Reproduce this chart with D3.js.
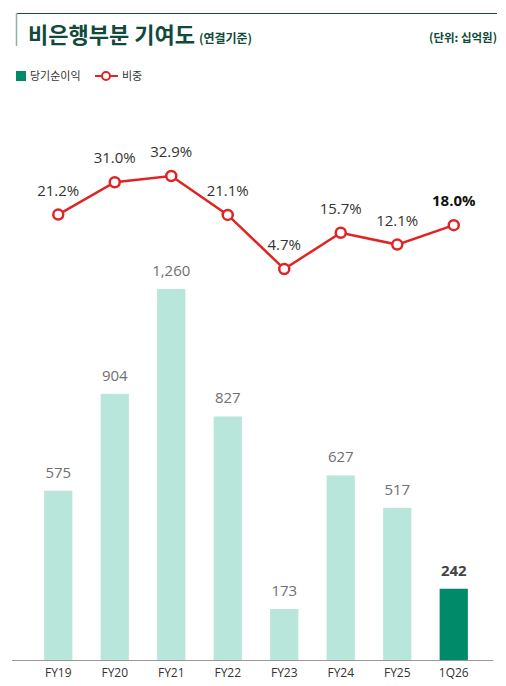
<!DOCTYPE html>
<html>
<meta charset="utf-8">
<head>
<script src="https://cdn.jsdelivr.net/npm/d3@7"></script>
<style>
  body { margin: 0; background: #fff; }
  text { font-family: "Noto Sans CJK KR", "Noto Sans", sans-serif; }
</style>
</head>
<body>
<div id="chart"></div>
<script>

var periods = ["FY19", "FY20", "FY21", "FY22", "FY23", "FY24", "FY25", "1Q26"];
var profit = [575, 904, 1260, 827, 173, 627, 517, 242];
var share = [21.2, 31.0, 32.9, 21.1, 4.7, 15.7, 12.1, 18.0];
var profitLabels = ["575", "904", "1,260", "827", "173", "627", "517", "242"];
var shareLabels = ["21.2%", "31.0%", "32.9%", "21.1%", "4.7%", "15.7%", "12.1%", "18.0%"];

var W = 506, H = 686;
var svg = d3.select("#chart").append("svg").attr("width", W).attr("height", H);

// header
svg.append("line").attr("x1", 16).attr("x2", 497).attr("y1", 13.5).attr("y2", 13.5)
    .attr("stroke", "#1e4a40").attr("stroke-width", 1);
svg.append("line").attr("x1", 16.5).attr("x2", 16.5).attr("y1", 13).attr("y2", 46)
    .attr("stroke", "#8fb0a6").attr("stroke-width", 1.5);

var title = svg.append("text").attr("x", 28).attr("y", 43)
    .attr("fill", "#0f4a3b").style("font-weight", "bold");
title.append("tspan").style("font-size", "22px").text("비은행부분 기여도");
title.append("tspan").attr("dx", 4).style("font-size", "12px").text("(연결기준)");

svg.append("text").attr("x", 497).attr("y", 42).attr("text-anchor", "end")
    .attr("fill", "#0f4a3b").style("font-size", "11.5px").style("font-weight", "bold")
    .text("(단위: 십억원)");

// legend
svg.append("rect").attr("x", 16).attr("y", 71).attr("width", 10).attr("height", 10).attr("fill", "#008a6a");
svg.append("text").attr("x", 30).attr("y", 80).attr("fill", "#333").style("font-size", "11px").text("당기순이익");
svg.append("line").attr("x1", 95).attr("x2", 118).attr("y1", 76).attr("y2", 76)
    .attr("stroke", "#e02424").attr("stroke-width", 2);
svg.append("circle").attr("cx", 106).attr("cy", 76).attr("r", 4)
    .attr("fill", "#fff").attr("stroke", "#e02424").attr("stroke-width", 2);
svg.append("text").attr("x", 122).attr("y", 80).attr("fill", "#333").style("font-size", "11px").text("비중");

// scales
var x = d3.scaleBand().domain(periods).range([30, 482]).paddingInner(0.5).paddingOuter(0.25);
var yBar = d3.scaleLinear().domain([0, 1260]).range([660, 289]);
var yLine = d3.scaleLinear().domain([0, 32.9]).range([284.5, 176]);

var last = periods.length - 1;
var barColor = function(d, i) { return i === last ? "#008a6a" : "#b9e6da"; };

svg.selectAll("rect.bar")
    .data(profit).enter()
    .append("rect")
    .attr("class", "bar")
    .attr("x", function(d, i) { return x(periods[i]); })
    .attr("y", function(d) { return yBar(d); })
    .attr("width", x.bandwidth())
    .attr("height", function(d) { return yBar(0) - yBar(d); })
    .attr("fill", barColor);

svg.selectAll("text.barlabel")
    .data(profit).enter()
    .append("text")
    .attr("class", "barlabel")
    .attr("x", function(d, i) { return x(periods[i]) + x.bandwidth() / 2; })
    .attr("y", function(d) { return yBar(d) - 13; })
    .attr("text-anchor", "middle")
    .attr("fill", function(d, i) { return i === last ? "#444" : "#707070"; })
    .style("font-size", "15px")
    .style("font-family", "'Open Sans', sans-serif")
    .style("font-weight", function(d, i) { return i === last ? "bold" : "normal"; })
    .text(function(d, i) { return profitLabels[i]; });

// x axis
var xAxis = svg.append("g").attr("transform", "translate(0,660.5)")
    .call(d3.axisBottom(x).tickSize(0).tickPadding(8));
xAxis.select(".domain").remove();
xAxis.append("line").attr("x1", 12).attr("x2", 493).attr("stroke", "#999").attr("stroke-width", 1);
xAxis.selectAll(".tick text")
    .attr("fill", "#333")
    .style("font-size", "12px")
    .style("font-family", "'Open Sans', sans-serif");

// line
var cx = function(d, i) { return x(periods[i]) + x.bandwidth() / 2; };
var line = d3.line().x(cx).y(function(d) { return yLine(d); });

svg.append("path").datum(share)
    .attr("d", line)
    .attr("fill", "none")
    .attr("stroke", "#e02424")
    .attr("stroke-width", 2.5);

svg.selectAll("circle.pt")
    .data(share).enter()
    .append("circle")
    .attr("class", "pt")
    .attr("cx", cx)
    .attr("cy", function(d) { return yLine(d); })
    .attr("r", 5)
    .attr("fill", "#fff")
    .attr("stroke", "#e02424")
    .attr("stroke-width", 2.5);

svg.selectAll("text.ptlabel")
    .data(share).enter()
    .append("text")
    .attr("class", "ptlabel")
    .attr("x", cx)
    .attr("y", function(d) { return yLine(d) - 19; })
    .attr("text-anchor", "middle")
    .attr("fill", function(d, i) { return i === last ? "#111" : "#333"; })
    .style("font-size", "15px")
    .style("font-family", "'Open Sans', sans-serif")
    .style("font-weight", function(d, i) { return i === last ? "bold" : "normal"; })
    .text(function(d, i) { return shareLabels[i]; });

</script>
</body>
</html>
